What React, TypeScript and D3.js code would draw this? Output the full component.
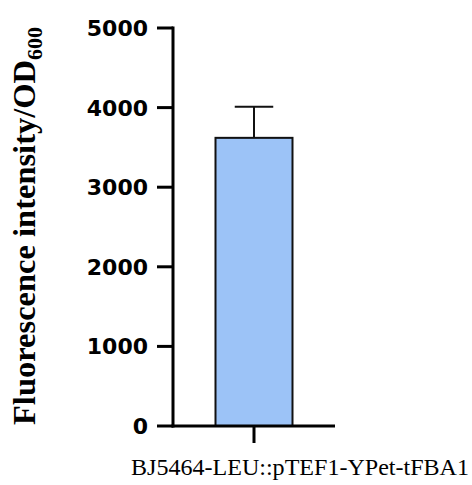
import React from "react";
import * as d3 from "d3";

const categories = ["BJ5464-LEU::pTEF1-YPet-tFBA1"];
const means = [3620];
const errors = [390];
const yTicks = [0, 1000, 2000, 3000, 4000, 5000];

const W = 472;
const H = 485;
const left = 173;
const right = 335;
const top = 28;
const bottom = 426;

export default function App() {
  const y = d3.scaleLinear().domain([0, 5000]).range([bottom, top]);
  const x = d3
    .scaleBand<string>()
    .domain(categories)
    .range([left, right])
    .paddingInner(0)
    .paddingOuter(0.552);
  const bw = x.bandwidth();
  return (
    <svg
      width={W}
      height={H}
      style={{ position: "absolute", left: 0, top: 0, background: "#fff" }}
    >
      {categories.map((c, i) => {
        const x0 = x(c)!;
        const cx = x0 + bw / 2;
        const yt = y(means[i]);
        const ye = y(means[i] + errors[i]);
        return (
          <g key={c}>
            <rect
              x={x0}
              y={yt}
              width={bw}
              height={bottom - yt}
              fill="#9CC3F7"
              stroke="#111"
              strokeWidth={2}
            />
            <line x1={cx} x2={cx} y1={yt} y2={ye} stroke="#111" strokeWidth={2} />
            <line
              x1={cx - bw / 4}
              x2={cx + bw / 4}
              y1={ye}
              y2={ye}
              stroke="#111"
              strokeWidth={2}
            />
            <line x1={cx} x2={cx} y1={bottom} y2={bottom + 17} stroke="#000" strokeWidth={3} />
            <text
              x={131}
              y={475}
              textAnchor="start"
              fontFamily="'Liberation Serif', 'Times New Roman', serif"
              fontSize={24}
              textLength={338}
              lengthAdjust="spacingAndGlyphs"
              fill="#000"
            >
              {c}
            </text>
          </g>
        );
      })}
      {/* axes */}
      <line x1={left} x2={left} y1={top - 1.5} y2={bottom + 1.5} stroke="#000" strokeWidth={3} />
      <line x1={left - 1.5} x2={right} y1={bottom} y2={bottom} stroke="#000" strokeWidth={3} />
      {yTicks.map((t) => (
        <g key={t}>
          <line x1={left - 16} x2={left} y1={y(t)} y2={y(t)} stroke="#000" strokeWidth={3} />
          <text
            x={left - 25}
            y={y(t)}
            dy="0.36em"
            textAnchor="end"
            fontFamily="'DejaVu Sans', sans-serif"
            fontWeight="bold"
            fontSize={22}
            fill="#000"
          >
            {t}
          </text>
        </g>
      ))}
      <text
        transform={`translate(35, 226) rotate(-90)`}
        textAnchor="middle"
        fontFamily="'Liberation Serif', 'Times New Roman', serif"
        fontWeight="bold"
        fontSize={32.5}
        fill="#000"
      >
        Fluorescence intensity/OD
        <tspan fontSize={22} dy={7}>600</tspan>
      </text>
    </svg>
  );
}
